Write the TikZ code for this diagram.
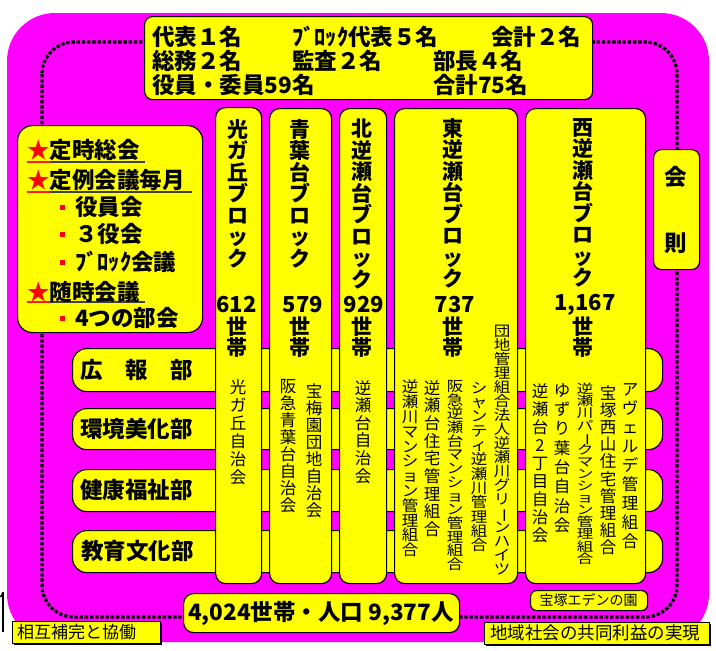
\documentclass[tikz,border=0pt]{standalone}
\usepackage{fontspec}
\usepackage{graphicx}
\newfontfamily\jp{Noto Sans CJK JP}
\definecolor{mag}{HTML}{FF00FF}
\definecolor{yel}{HTML}{FFFF00}
\def\vtend{VTEND}
\def\vtloop#1{\ifx\vtend#1\else\hbox to 1em{\hss\scalebox{1}[\vtys]{#1}\hss}\expandafter\vtloop\fi}
\newcommand\vt[3]{\vbox{\baselineskip=#1pt\lineskiplimit=-1000pt\lineskip=0pt\def\vtys{#2}\vtloop#3\vtend}}
\newcommand\vbar{\rotatebox[origin=c]{-90}{ー}}
\tikzset{
  ybox/.style={draw=black, fill=yel, line width=1.2pt, rounded corners=#1, inner sep=0pt, anchor=north west},
  ybox/.default=8pt,
  sbox/.style={draw=black, fill=yel, line width=1pt, inner sep=0pt, anchor=north west},
  shadow/.style={fill=black, inner sep=0pt, anchor=north west},
  big/.style={font=\jp\bfseries\fontsize{22.5}{24}\selectfont, inner sep=0pt},
  vtitle/.style={font=\jp\bfseries\fontsize{21}{21}\selectfont, inner sep=0pt, anchor=north},
  vsmall/.style={font=\jp\fontsize{16.5}{16.5}\selectfont, inner sep=0pt, anchor=north},
  num/.style={font=\jp\bfseries\fontsize{22}{22}\selectfont, inner sep=0pt},
  uline/.style={line width=1.2pt, draw=black!75},
}
\begin{document}
\begin{tikzpicture}[x=1pt,y=-1pt]
\path[use as bounding box] (0,0) rectangle (716,651);
% background
\fill[mag, rounded corners=48pt] (7,13) rectangle (709,642);
\draw[line width=3.2pt, dash pattern=on 3.4pt off 1.8pt, rounded corners=32pt] (42,42) rectangle (677,617);
% department rows
\node[ybox=14pt, minimum width=590pt, minimum height=43pt] (r1) at (72,348) {};
\node[ybox=14pt, minimum width=590pt, minimum height=41pt] (r2) at (72,408) {};
\node[ybox=14pt, minimum width=590pt, minimum height=42pt] (r3) at (72,469) {};
\node[ybox=14pt, minimum width=590pt, minimum height=42pt] (r4) at (72,530) {};
\node[big, anchor=west] (r1t) at (80,369.5) {広　報　部};
\node[big, anchor=west] (r2t) at (80,428.5) {環境美化部};
\node[big, anchor=west] (r3t) at (80,490) {健康福祉部};
\node[big, anchor=west] (r4t) at (81,551) {教育文化部};
% block columns
\node[ybox=10pt, minimum width=46pt, minimum height=476pt] (c1) at (215,107) {};
\node[ybox=10pt, minimum width=62pt, minimum height=475pt] (c2) at (269,108) {};
\node[ybox=10pt, minimum width=47pt, minimum height=475pt] (c3) at (339,108) {};
\node[ybox=10pt, minimum width=123pt, minimum height=475pt] (c4) at (394,108) {};
\node[ybox=10pt, minimum width=120pt, minimum height=475pt] (c5) at (525,108) {};
% titles
\node[vtitle] (c1t) at (238,119) {\vt{21.5}{1}{光ガ丘ブロック}};
\node[vtitle] (c2t) at (300,119) {\vt{21.5}{1}{青葉台ブロック}};
\node[vtitle] (c3t) at (362,119) {\vt{21.5}{1}{北逆瀬台ブロック}};
\node[vtitle] (c4t) at (453,118) {\vt{21.5}{1}{東逆瀬台ブロック}};
\node[vtitle] (c5t) at (583,118) {\vt{21.5}{1}{西逆瀬台ブロック}};
\node[num] (c1n) at (236.5,305) {612};
\node[num] (c2n) at (303,305) {579};
\node[num] (c3n) at (364,305) {929};
\node[num] (c4n) at (455,305) {737};
\node[num] (c5n) at (585,305) {1,167};
\node[vtitle] (c1s) at (237,317) {\vt{21}{1}{世帯}};
\node[vtitle] (c2s) at (300,317) {\vt{21}{1}{世帯}};
\node[vtitle] (c3s) at (362,317) {\vt{21}{1}{世帯}};
\node[vtitle] (c4s) at (453,317) {\vt{21}{1}{世帯}};
\node[vtitle] (c5s) at (583,317) {\vt{21}{1}{世帯}};
% associations
\node[vsmall] (a11) at (238,379) {\vt{18}{1}{光ガ丘自治会}};
\node[vsmall] (a21) at (314,383) {\vt{17}{1}{宝梅園団地自治会}};
\node[vsmall] (a22) at (288,379) {\vt{17}{1}{阪急青葉台自治会}};
\node[vsmall] (a31) at (363,380) {\vt{17.6}{1}{逆瀬台自治会}};
\node[vsmall] (a41) at (502,325) {\vt{14}{0.87}{団地管理組合法人逆瀬川グリ\vbar ンハイツ}};
\node[vsmall] (a42) at (479,382) {\vt{14.3}{0.88}{シャンティ逆瀬川管理組合}};
\node[vsmall] (a43) at (455,380) {\vt{13.7}{0.85}{阪急逆瀬台マンション管理組合}};
\node[vsmall] (a44) at (432,380) {\vt{17.7}{1}{逆瀬台住宅管理組合}};
\node[vsmall] (a45) at (410,380) {\vt{14.8}{0.92}{逆瀬川マンション管理組合}};
\node[vsmall] (a51) at (630,383) {\vt{19}{1}{アヴェルデ管理組合}};
\node[vsmall] (a52) at (608,385) {\vt{17.2}{1}{宝塚西山住宅管理組合}};
\node[vsmall] (a53) at (585,383) {\vt{12.1}{0.76}{逆瀬川パ\vbar クマンション管理組合}};
\node[vsmall] (a54) at (562,383) {\vt{19.3}{1}{ゆずり葉台自治会}};
\node[vsmall] (a55) at (540,383) {\vt{18}{1}{逆瀬台2丁目自治会}};
% top box
\node[ybox=8pt, minimum width=448pt, minimum height=83pt] (top) at (144,16) {};
\node[big, anchor=west] (t1) at (152,37) {代表１名};
\node[big, anchor=west] (t2) at (292,37) {ﾌﾞﾛｯｸ代表５名};
\node[big, anchor=west] (t3) at (491,37) {会計２名};
\node[big, anchor=west] (t4) at (152,61) {総務２名};
\node[big, anchor=west] (t5) at (292,61) {監査２名};
\node[big, anchor=west] (t6) at (433,61) {部長４名};
\node[big, anchor=west] (t7) at (152,85) {役員・委員59名};
\node[big, anchor=west] (t8) at (433,85) {合計75名};
% left meetings box
\node[ybox=15pt, minimum width=185pt, minimum height=207pt] (mt) at (17,125) {};
\draw[uline, draw=red!80!orange] (27,162) -- (50,162);
\draw[uline] (50,162) -- (145,162);
\draw[uline, draw=red!80!orange] (27,192) -- (50,192);
\draw[uline] (50,192) -- (192,192);
\draw[uline, draw=red!80!orange] (27,302) -- (50,302);
\draw[uline] (50,302) -- (145,302);
\node[big, anchor=west] (m1) at (27,150) {{\color{red}★}定時総会};
\node[big, anchor=west] (m2) at (27,180) {{\color{red}★}定例会議毎月};
\node[big, anchor=west] (m3) at (75,207) {役員会};
\node[big, anchor=west] (m4) at (75,234) {３役会};
\node[big, anchor=west] (m5) at (75,262) {ﾌﾞﾛｯｸ会議};
\node[big, anchor=west] (m6) at (27,292) {{\color{red}★}随時会議};
\node[big, anchor=west] (m7) at (75,318) {4つの部会};
\foreach \yy in {207,234,262,318} \fill[red] (60,\yy-2) rectangle (64.5,\yy+2.5);
% rules box
\node[ybox=8pt, minimum width=46pt, minimum height=120pt] (kb) at (653,149) {};
\node[big] (k1) at (676,177) {会};
\node[big] (k2) at (676,243) {則};
% bottom
\node[ybox=10pt, minimum width=276pt, minimum height=39pt] (tot) at (183,593) {};
\node[big] (tott) at (321,613) {4,024世帯・人口 9,377人};
\node[ybox=6pt, minimum width=117pt, minimum height=20pt] (eden) at (530,590) {};
\node[font=\jp\fontsize{14}{14}\selectfont, inner sep=0pt] (edent) at (588.5,600) {宝塚エデンの園};
\node[shadow, minimum width=148pt, minimum height=22pt] (s1s) at (14,623) {};
\node[sbox, minimum width=148pt, minimum height=22pt] (s1) at (12,621) {};
\node[font=\jp\fontsize{17}{17}\selectfont, inner sep=0pt, anchor=west] (s1t) at (17,632) {相互補完と協働};
\node[shadow, minimum width=225pt, minimum height=22pt] (s2s) at (486,624) {};
\node[sbox, minimum width=225pt, minimum height=22pt] (s2) at (484,622) {};
\node[font=\jp\fontsize{17.5}{17.5}\selectfont, inner sep=0pt, anchor=west] (s2t) at (490,633) {地域社会の共同利益の実現};
% stray mark at left edge
\draw[line width=2.5pt] (3,592) -- (3,632);
\draw[line width=1.5pt] (0.5,597) -- (3,593);
\end{tikzpicture}
\end{document}
